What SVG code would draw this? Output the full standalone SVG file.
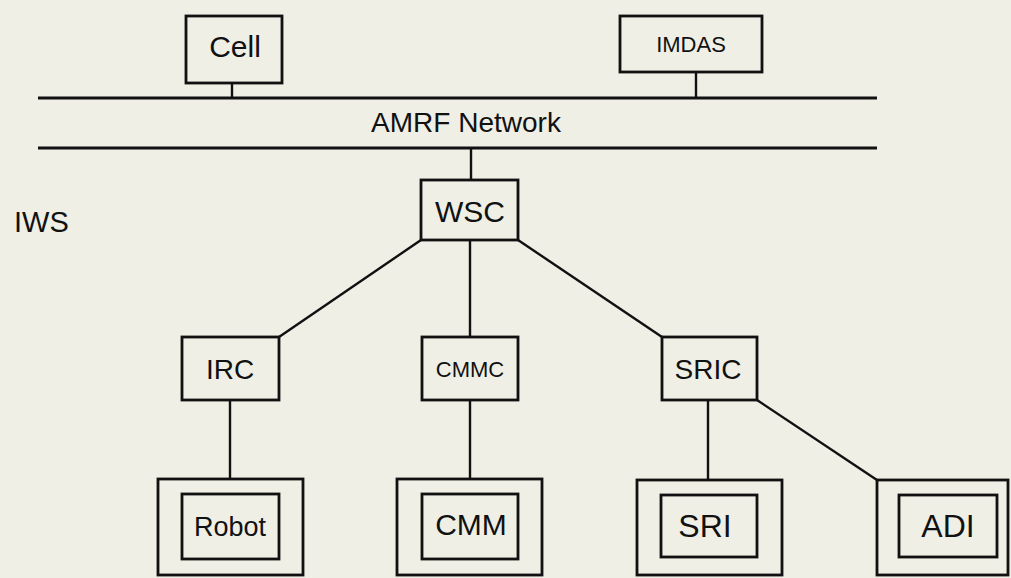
<svg xmlns="http://www.w3.org/2000/svg" width="1011" height="578" viewBox="0 0 1011 578">
<style>
.b{fill:none;stroke:#111;stroke-width:2.8}
.c{fill:none;stroke:#111;stroke-width:2.4}
text{font-family:"Liberation Sans",Arial,sans-serif;fill:#111;text-anchor:middle}
</style>
<rect width="1011" height="578" fill="#efefe6"/>
<g id="connectors">
<line class="b" x1="38" y1="98" x2="877" y2="98"/>
<line class="b" x1="38" y1="148" x2="877" y2="148"/>
<line class="c" x1="232" y1="83" x2="232" y2="98"/>
<line class="c" x1="696" y1="72" x2="696" y2="98"/>
<line class="c" x1="471" y1="148" x2="471" y2="180"/>
<line class="c" x1="421" y1="240" x2="279" y2="337"/>
<line class="c" x1="470" y1="240" x2="470" y2="337"/>
<line class="c" x1="518" y1="240" x2="662" y2="337"/>
<line class="c" x1="230" y1="400" x2="230" y2="479"/>
<line class="c" x1="470" y1="400" x2="470" y2="479"/>
<line class="c" x1="708" y1="400" x2="708" y2="480"/>
<line class="c" x1="757" y1="400" x2="877" y2="480"/>
</g>
<g id="network"><text x="466" y="132" font-size="28">AMRF Network</text></g>
<g id="iws"><text x="14" y="232" font-size="29" style="text-anchor:start">IWS</text></g>
<g id="cell"><rect class="b" x="186" y="16" width="96" height="67"/><text x="235" y="57" font-size="30">Cell</text></g>
<g id="imdas"><rect class="b" x="620" y="16" width="142" height="56"/><text x="691" y="52" font-size="22">IMDAS</text></g>
<g id="wsc"><rect class="b" x="421" y="180" width="97" height="60"/><text x="470" y="222" font-size="30">WSC</text></g>
<g id="irc"><rect class="b" x="182" y="337" width="97" height="63"/><text x="230" y="379" font-size="28">IRC</text></g>
<g id="cmmc"><rect class="b" x="422" y="337" width="96" height="63"/><text x="470" y="377" font-size="22">CMMC</text></g>
<g id="sric"><rect class="b" x="662" y="337" width="95" height="63"/><text x="708" y="379" font-size="28">SRIC</text></g>
<g id="robot"><rect class="b" x="158" y="479" width="145" height="96"/><rect class="b" x="182" y="494" width="97" height="65"/><text x="230" y="536" font-size="27">Robot</text></g>
<g id="cmm"><rect class="b" x="397" y="479" width="145" height="96"/><rect class="b" x="422" y="494" width="96" height="65"/><text x="471" y="535" font-size="30">CMM</text></g>
<g id="sri"><rect class="b" x="637" y="480" width="145" height="95"/><rect class="b" x="661" y="495" width="96" height="62"/><text x="705" y="537" font-size="32">SRI</text></g>
<g id="adi"><rect class="b" x="877" y="480" width="131" height="95"/><rect class="b" x="899" y="495" width="98" height="62"/><text x="948" y="537" font-size="32">ADI</text></g>
</svg>
